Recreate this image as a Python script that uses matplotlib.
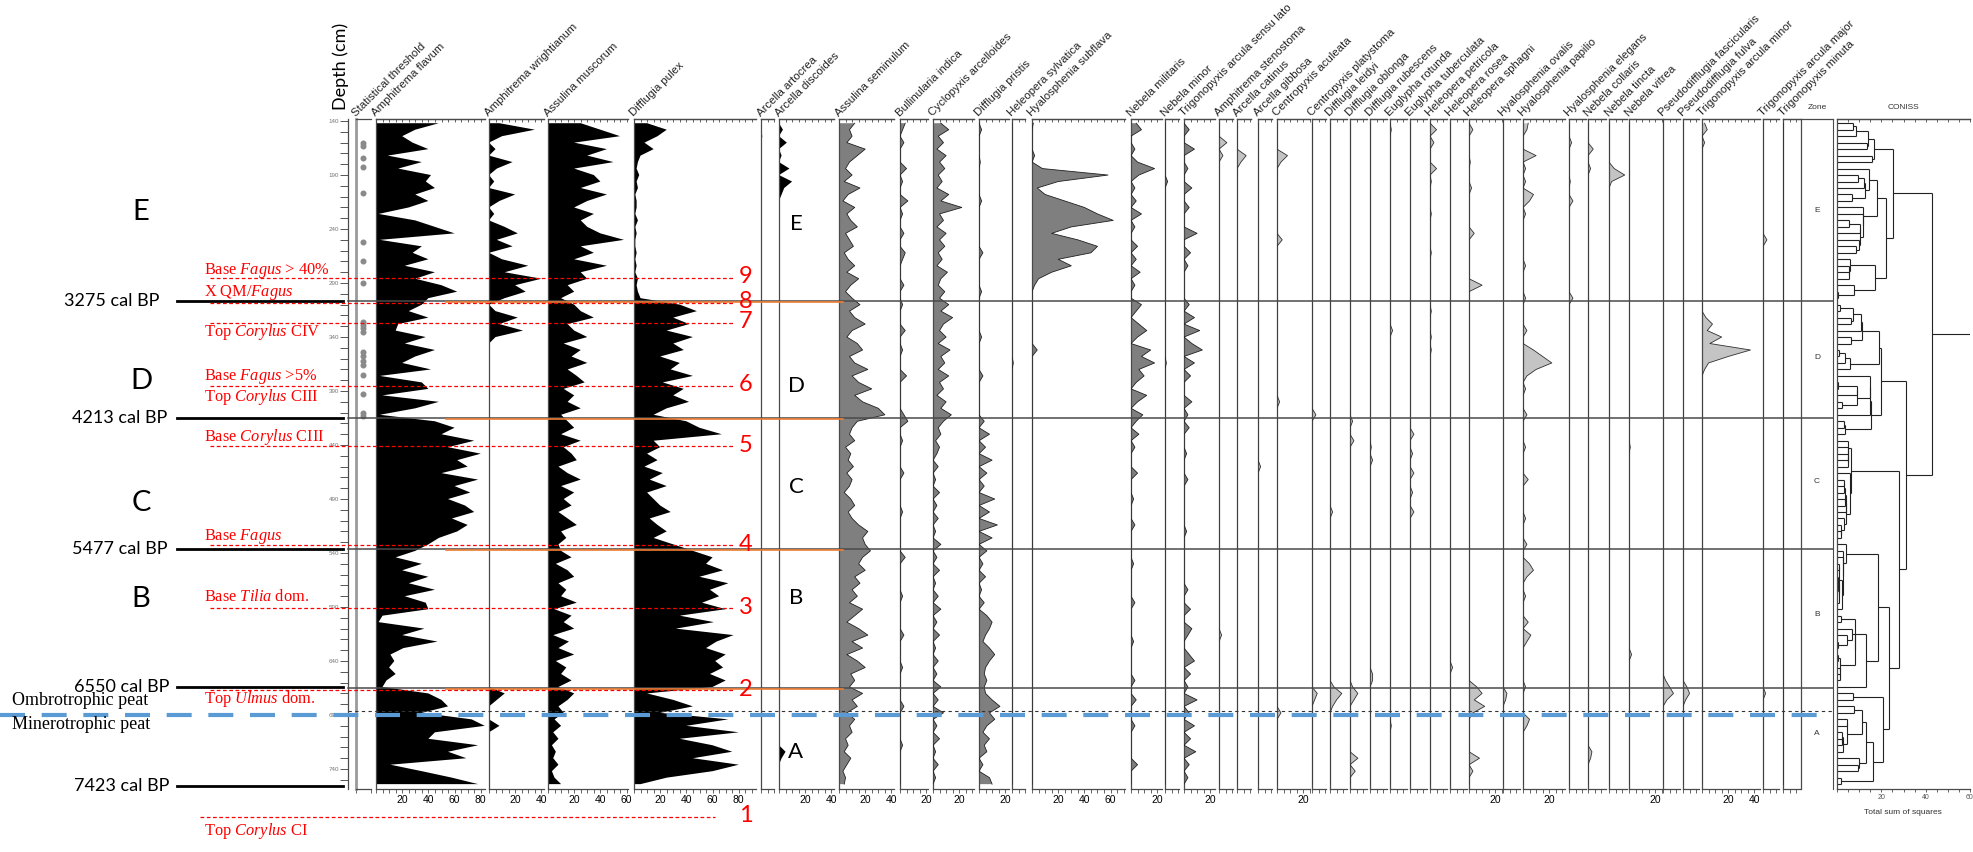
import numpy as np
import matplotlib
matplotlib.use("Agg")
import matplotlib.pyplot as plt
from matplotlib.collections import LineCollection
from matplotlib.transforms import blended_transform_factory

plt.rcParams["font.family"] = ["Liberation Sans", "DejaVu Sans"]
plt.rcParams["mathtext.fontset"] = "custom"
plt.rcParams["mathtext.rm"] = "Liberation Serif"
plt.rcParams["mathtext.it"] = "Liberation Serif:italic"

# ---------------- data (depth in cm, values in %) ----------------
depths = [142, 148, 154, 160, 166, 172, 178, 184, 190, 196, 202, 208, 214, 220,
          226, 232, 238, 244, 250, 256, 262, 268, 274, 280, 286, 292, 298, 304,
          310, 316, 322, 328, 334, 340, 346, 352, 358, 364, 370, 376, 382, 388,
          394, 400, 406, 412, 418, 424, 430, 436, 442, 448, 454, 460, 466, 472,
          478, 484, 490, 496, 502, 508, 514, 520, 526, 532, 538, 544, 550, 556,
          562, 568, 574, 580, 586, 592, 598, 604, 610, 616, 622, 628, 634, 640,
          646, 652, 658, 664, 670, 676, 682, 688, 694, 700, 706, 712, 718, 724,
          730, 736, 742, 748, 754]

# samples passing the statistical threshold
stat_dots = [160, 163, 174, 183, 207, 252, 270, 290, 326, 329, 332, 335,
             354, 358, 362, 366, 375, 393, 410, 413]

# full profiles (zones E / D / C / B / A)
amph_flavum = [48, 30, 20, 28, 40, 9, 35, 17, 42, 38, 45, 30, 40, 25, 2, 30, 45, 60, 3, 35, 28, 40, 22, 45, 30, 50, 62, 40,
               35, 25, 40, 17, 15, 38, 22, 45, 30, 20, 42, 3, 35, 40, 5, 48, 30, 3,
               45, 60, 50, 75, 55, 80, 62, 70, 50, 78, 60, 72, 55, 68, 75, 58, 70, 62, 48, 40,
               30, 15, 35, 20, 40, 25, 45, 22, 38, 40, 5, 2, 37, 20, 47, 21, 11, 14, 10, 15, 8, 5,
               40, 50, 55, 35, 73, 83, 45, 40, 78, 55, 69, 11, 35, 58, 78]
assulina_musc = [25, 40, 55, 20, 45, 30, 50, 20, 35, 40, 25, 45, 30, 20, 35, 25, 30, 40, 58, 25, 35, 20, 45, 25, 30, 15, 20, 10,
                 20, 25, 35, 15, 20, 30, 12, 25, 18, 30, 15, 22, 28, 12, 20, 15, 25, 10,
                 15, 20, 10, 25, 12, 18, 22, 8, 15, 25, 10, 20, 12, 18, 8, 15, 22, 10, 14, 8,
                 10, 18, 6, 15, 20, 8, 14, 10, 22, 5, 18, 12, 20, 4, 16, 8, 20, 6, 14, 10, 18, 8,
                 20, 15, 8, 12, 5, 10, 4, 8, 3, 6, 4, 8, 3, 5, 10]
difflugia_pulex = [10, 25, 18, 8, 15, 5, 3, 2, 4, 2, 3, 1, 2, 2, 1, 3, 1, 2, 1, 1, 2, 1, 2, 1, 3, 2, 3, 5,
                   35, 48, 30, 42, 25, 45, 30, 38, 20, 35, 28, 45, 22, 38, 30, 42, 25, 15,
                   40, 50, 67, 15, 20, 10, 18, 8, 22, 12, 25, 10, 15, 20, 28, 12, 18, 25, 15, 30,
                   45, 60, 55, 68, 50, 72, 58, 65, 52, 70, 35, 61, 32, 76, 63, 55, 70, 62, 68, 58, 70, 60,
                   10, 30, 45, 20, 72, 40, 80, 35, 60, 75, 45, 80, 60, 25, 5]
assulina_sem = [12, 8, 10, 6, 20, 14, 8, 5, 10, 4, 16, 7, 3, 12, 6, 9, 14, 5, 8, 11, 4, 7, 12, 6, 15, 9, 5, 10,
                16, 8, 12, 20, 10, 6, 14, 18, 8, 12, 22, 10, 15, 25, 12, 18, 30, 35,
                14, 10, 8, 12, 5, 9, 7, 11, 6, 10, 8, 4, 9, 12, 7, 10, 15, 22, 18, 20,
                24, 18, 15, 20, 12, 16, 10, 14, 8, 18, 12, 6, 15, 22, 10, 18, 6, 14, 20, 9, 12, 8,
                18, 10, 14, 6, 12, 8, 10, 5, 7, 4, 9, 6, 3, 5, 4]

# sparse profiles: (depth, %) of samples where the taxon occurs
amph_wright = [(142, 8), (148, 35), (154, 10), (166, 5), (178, 18), (184, 6), (196, 4), (208, 20),
               (214, 8), (226, 4), (238, 12), (244, 22), (250, 6), (256, 18), (268, 10), (274, 30),
               (280, 12), (286, 40), (292, 20), (298, 28), (304, 12), (316, 5), (322, 22), (328, 8),
               (334, 26), (340, 5), (670, 12), (676, 6), (700, 8)]
arc_artocrea = [(154, 1)]
arc_discoides = [(148, 3), (160, 6), (172, 2), (184, 8), (196, 10), (202, 4), (208, 2), (724, 5), (730, 2)]
bullinularia = [(142, 4), (148, 2), (160, 3), (184, 5), (196, 2), (214, 6), (226, 2), (244, 3), (262, 4),
                (268, 2), (292, 3), (310, 2), (334, 4), (352, 2), (376, 5), (412, 3), (418, 6), (436, 2),
                (466, 3), (502, 2), (544, 4), (580, 2), (616, 3), (646, 2), (682, 3), (718, 2)]
cyclopyxis = [(142, 6), (148, 12), (154, 4), (160, 8), (166, 3), (172, 10), (178, 5), (184, 9), (190, 4),
              (196, 7), (202, 3), (208, 12), (214, 6), (220, 22), (226, 5), (232, 8), (238, 3), (244, 10),
              (250, 5), (256, 9), (262, 4), (268, 7), (274, 3), (280, 11), (286, 6), (292, 4), (298, 9),
              (304, 5), (310, 12), (316, 6), (322, 15), (328, 8), (334, 5), (340, 10), (346, 4), (352, 13),
              (358, 6), (364, 9), (370, 4), (376, 12), (382, 5), (388, 8), (394, 3), (400, 10), (406, 6),
              (412, 14), (418, 8), (424, 4), (430, 6), (436, 2), (442, 5), (448, 3), (460, 4), (472, 2),
              (484, 5), (496, 3), (508, 4), (520, 2), (532, 6), (544, 3), (556, 5), (568, 2), (580, 4),
              (592, 6), (604, 3), (616, 5), (628, 2), (640, 4), (652, 3), (664, 6), (676, 4), (688, 8),
              (700, 3), (712, 5), (724, 2), (736, 4), (748, 2)]
diff_pristis = [(148, 2), (178, 1), (214, 2), (262, 3), (298, 2), (340, 2), (376, 3), (418, 4), (430, 8),
                (442, 5), (454, 10), (466, 6), (478, 4), (490, 12), (502, 8), (514, 14), (526, 10),
                (538, 6), (550, 3), (562, 5), (574, 2), (586, 4), (598, 6), (604, 10), (610, 8), (616, 5),
                (622, 3), (628, 8), (634, 12), (640, 8), (646, 5), (652, 4), (658, 6), (664, 4), (670, 5),
                (676, 10), (682, 16), (688, 8), (694, 12), (700, 6), (706, 3), (712, 8), (718, 4),
                (724, 6), (736, 3), (748, 8), (754, 10)]
hel_sylvatica = [(364, 1)]
hya_subflava = [(142, 1), (172, 2), (184, 8), (190, 58), (196, 20), (202, 4), (208, 10), (214, 25),
                (220, 40), (226, 50), (232, 62), (238, 30), (244, 15), (250, 35), (256, 50), (262, 45),
                (268, 20), (274, 30), (280, 15), (286, 5), (292, 2), (352, 4)]
neb_militaris = [(142, 4), (148, 8), (166, 3), (178, 5), (184, 18), (190, 6), (202, 3), (214, 4), (226, 8),
                 (238, 3), (256, 5), (268, 4), (280, 7), (292, 3), (310, 8), (316, 4), (328, 6), (334, 12),
                 (340, 5), (352, 15), (358, 8), (364, 18), (370, 6), (376, 10), (382, 4), (394, 12),
                 (400, 5), (412, 9), (418, 4), (430, 6), (442, 3), (466, 5), (490, 2), (514, 3), (550, 2),
                 (586, 3), (622, 2), (658, 3), (676, 4), (700, 3), (736, 5)]
neb_minor = [(196, 2), (364, 1)]
trig_sl = [(148, 4), (166, 8), (184, 3), (202, 6), (220, 4), (244, 10), (262, 5), (274, 3), (310, 4),
           (322, 8), (334, 12), (346, 6), (352, 14), (364, 8), (376, 5), (400, 6), (412, 3), (424, 4),
           (448, 2), (472, 3), (520, 2), (574, 3), (592, 5), (610, 6), (616, 3), (634, 4), (640, 8),
           (652, 5), (664, 3), (676, 10), (688, 4), (700, 8), (712, 5), (724, 9), (736, 4), (748, 3)]
amph_stenostoma = [(160, 6), (172, 3), (616, 2)]
arc_catinus = [(172, 7), (178, 3)]
arc_gibbosa = [(460, 2)]
cen_aculeata = [(172, 8), (178, 3), (250, 4), (400, 2), (688, 3)]
cen_platystoma = [(412, 3), (670, 4), (676, 2)]
diff_leidyi = [(502, 2), (664, 3), (670, 9), (676, 5), (682, 2)]
diff_oblonga = [(418, 2), (436, 3), (664, 2), (670, 6), (676, 3), (730, 6), (742, 4)]
diff_rubescens = [(442, 1), (454, 2), (652, 2), (658, 2)]
eug_rotunda = [(148, 1), (334, 2), (700, 1)]
eug_tuberculata = [(430, 3), (448, 2), (466, 3), (484, 2), (502, 3)]
hel_petricola = [(148, 5), (160, 3), (184, 5), (196, 1), (226, 1), (262, 1), (316, 1), (340, 1), (352, 1)]
hel_rosea = [(646, 2)]
hel_sphagni = [(148, 3), (178, 1), (202, 2), (244, 4), (292, 10), (664, 6), (670, 10), (676, 4),
               (682, 12), (688, 3), (730, 8), (742, 3)]
hya_ovalis = [(670, 3), (676, 2)]
hya_papilio = [(142, 4), (148, 3), (172, 10), (184, 2), (196, 2), (208, 8), (214, 5), (226, 2), (274, 2),
               (304, 2), (334, 3), (352, 8), (358, 15), (364, 22), (370, 10), (376, 3), (388, 2), (412, 3),
               (442, 2), (472, 4), (508, 2), (532, 3), (550, 5), (556, 8), (562, 3), (580, 2), (604, 4),
               (616, 6), (622, 3), (664, 2), (694, 5), (700, 3)]
hya_elegans = [(160, 2), (196, 1), (214, 3), (304, 3)]
neb_collaris = [(166, 4), (184, 2), (724, 3), (730, 2)]
neb_tincta = [(184, 4), (190, 12), (196, 2)]
neb_vitrea = [(442, 1), (634, 2)]
pse_fascicularis = [(658, 2), (664, 5), (670, 8), (676, 3)]
pse_fulva = [(664, 3), (670, 5), (676, 2)]
trig_minor = [(142, 2), (148, 4), (160, 2), (322, 3), (328, 8), (334, 4), (340, 15), (346, 6), (352, 37),
              (358, 20), (364, 5), (370, 2)]
trig_major = [(250, 3), (670, 2)]
trig_minuta = []

taxa = ["Amphitrema flavum", "Amphitrema wrightianum", "Assulina muscorum", "Difflugia pulex",
        "Arcella artocrea", "Arcella discoides", "Assulina seminulum", "Bullinularia indica",
        "Cyclopyxis arcelloides", "Difflugia pristis", "Heleopera sylvatica", "Hyalosphenia subflava",
        "Nebela militaris", "Nebela minor", "Trigonopyxis arcula sensu lato", "Amphitrema stenostoma",
        "Arcella catinus", "Arcella gibbosa", "Centropyxis aculeata", "Centropyxis platystoma",
        "Difflugia leidyi", "Difflugia oblonga", "Difflugia rubescens", "Euglypha rotunda",
        "Euglypha tuberculata", "Heleopera petricola", "Heleopera rosea", "Heleopera sphagni",
        "Hyalosphenia ovalis", "Hyalosphenia papilio", "Hyalosphenia elegans", "Nebela collaris",
        "Nebela tincta", "Nebela vitrea", "Pseudodifflugia fascicularis", "Pseudodifflugia fulva",
        "Trigonopyxis arcula minor", "Trigonopyxis arcula major", "Trigonopyxis minuta"]
series = [amph_flavum, amph_wright, assulina_musc, difflugia_pulex, arc_artocrea, arc_discoides,
          assulina_sem, bullinularia, cyclopyxis, diff_pristis, hel_sylvatica, hya_subflava,
          neb_militaris, neb_minor, trig_sl, amph_stenostoma, arc_catinus, arc_gibbosa, cen_aculeata,
          cen_platystoma, diff_leidyi, diff_oblonga, diff_rubescens, eug_rotunda, eug_tuberculata,
          hel_petricola, hel_rosea, hel_sphagni, hya_ovalis, hya_papilio, hya_elegans, neb_collaris,
          neb_tincta, neb_vitrea, pse_fascicularis, pse_fulva, trig_minor, trig_major, trig_minuta]

zones = ["E", "D", "C", "B", "A"]
zone_bounds = [306.7, 415, 536, 665]
coniss_root = 43   # total sum of squares of the last merge
cal_dates = ["3275 cal BP", "4213 cal BP", "5477 cal BP", "6550 cal BP", "7423 cal BP"]
cal_depths = [306.7, 415, 536, 664, 756]
event_numbers = ["1", "2", "3", "4", "5", "6", "7", "8", "9"]
event_depths = [784, 667, 591, 533, 441, 385, 327, 308.5, 285]
event_labels = ["Top $\\it{Corylus}$ CI", "Top $\\it{Ulmus}$ dom.", "Base $\\it{Tilia}$ dom.",
                "Base $\\it{Fagus}$", "Base $\\it{Corylus}$ CIII", "Top $\\it{Corylus}$ CIII",
                "Base $\\it{Fagus}$ >5%", "Top $\\it{Corylus}$ CIV", "X QM/$\\it{Fagus}$",
                "Base $\\it{Fagus}$ > 40%"]
peat_boundary = 690

# ---------------- layout (pixels) ----------------
W, H, DPI = 1973, 852, 100
TOP_PX, BOT_PX = 119, 789
D_TOP, D_BOT = 138.1, 758.5
PX_PCT = 1.31
lefts = [376, 489, 548, 634, 761, 779, 839, 900, 933, 979, 1012, 1032, 1131, 1165, 1184, 1219,
         1237, 1258, 1277, 1312, 1330, 1350, 1370, 1390, 1410, 1430, 1450, 1469, 1503, 1523,
         1569, 1588, 1609, 1629, 1663, 1683, 1702, 1763, 1783]
xmaxes = [83, 42, 61, 93, 10, 42, 42, 21, 31, 23, 10, 71, 24, 11, 24, 11, 11, 11, 25, 11, 13, 13,
          13, 13, 13, 13, 13, 25, 13, 32, 13, 14, 14, 25, 13, 12, 44, 12, 13]
event_text_depths = [797, 675, 581, 525, 432.6, 395.5, 377, 335, 299, 278]
SPINE = "#4a4a4a"
BLACK, DARK, LIGHT = "#000000", "#7f7f7f", "#c4c4c4"

dep = np.array(depths, float)


def on_grid(v):
    out = np.zeros(len(dep))
    if len(v) and isinstance(v[0], tuple):
        for d, val in v:
            out[np.argmin(np.abs(dep - d))] = val
    elif len(v):
        out[:] = v
    return out


fig = plt.figure(figsize=(W / DPI, H / DPI), dpi=DPI)


def add_panel(left, right):
    ax = fig.add_axes([left / W, 1 - BOT_PX / H, (right - left) / W, (BOT_PX - TOP_PX) / H])
    ax.set_ylim(D_BOT, D_TOP)
    ax.patch.set_alpha(0)
    ax.set_yticks([])
    ax.spines["right"].set_visible(False)
    for s in ["left", "top", "bottom"]:
        ax.spines[s].set_color(SPINE)
        ax.spines[s].set_linewidth(0.9)
    return ax


def top_ticks(ax, ticks):
    sec = ax.secondary_xaxis("top")
    sec.set_xticks(ticks, labels=[""] * len(ticks))
    sec.tick_params(direction="in", length=2.5, width=0.6, color=SPINE)
    sec.spines["top"].set_color(SPINE)
    sec.spines["top"].set_linewidth(0.9)


# depth axis
dax = add_panel(348, 355)
dax.spines["top"].set_visible(False)
dax.spines["bottom"].set_visible(False)
dax.set_xticks([])
dax.set_yticks(np.arange(140, 760, 50))
dax.set_yticks(np.arange(140, 760, 10), minor=True)
dax.tick_params(axis="y", which="both", direction="out", length=5.5, width=0.7,
                color="#555555", labelsize=4.5, labelcolor="#777777", pad=1)

# statistical threshold column
sax = add_panel(356, 371)
sax.set_xlim(0, 1)
sax.spines["left"].set_color("#9a9a9a")
sax.spines["left"].set_linewidth(2.0)
sax.set_xticks([0, 1], labels=["", ""])
sax.tick_params(axis="x", direction="out", length=3, width=0.6, color=SPINE)
sax.scatter(np.full(len(stat_dots), 0.45), stat_dots, s=11, color="#8a8a8a", zorder=3, clip_on=False)

# taxon panels
for k, (name, vals) in enumerate(zip(taxa, series)):
    xm = xmaxes[k]
    ax = add_panel(lefts[k], lefts[k] + xm * PX_PCT)
    ax.set_xlim(0, xm)
    v = on_grid(vals)
    if k < 6:
        fc, ec = BLACK, None
    elif k < 15:
        fc, ec = DARK, "#202020"
    else:
        fc, ec = LIGHT, "#303030"
    ax.fill_betweenx(dep, 0, v, facecolor=fc, edgecolor="none", zorder=2)
    if ec is not None:
        ax.plot(v, dep, color=ec, lw=0.6, zorder=3)
    major = [t for t in range(20, int(xm) + 1, 20)]
    minor = list(range(0, int(xm) + 1, 5))
    ax.set_xticks(major, labels=[str(t) for t in major])
    ax.set_xticks(minor, minor=True)
    ax.tick_params(axis="x", which="both", direction="out", length=3, width=0.6,
                   color=SPINE, labelsize=7.5, pad=1)
    top_ticks(ax, minor)

# zone column
zax = add_panel(1801, 1833)
zax.spines["right"].set_visible(True)
zax.spines["right"].set_color(SPINE)
zax.spines["bottom"].set_visible(False)
zax.set_xlim(0, 1)
zax.set_xticks([])

# CONISS (constrained incremental sum of squares on sqrt proportions)
P = np.array([on_grid(s) for s in series]).T
P = P / P.sum(axis=1, keepdims=True)
X = np.sqrt(P)
clusters = [dict(s=X[i].copy(), ss=float((X[i] ** 2).sum()), n=1, y=dep[i], h=0.0)
            for i in range(len(dep))]


def dispersion(c):
    return c["ss"] - float((c["s"] ** 2).sum()) / c["n"]


merges = []
total = 0.0
while len(clusters) > 1:
    best = None
    for k in range(len(clusters) - 1):
        a, b = clusters[k], clusters[k + 1]
        s = a["s"] + b["s"]
        ss = a["ss"] + b["ss"]
        n = a["n"] + b["n"]
        inc = ss - float((s ** 2).sum()) / n - dispersion(a) - dispersion(b)
        if best is None or inc < best[0]:
            best = (inc, k, s, ss, n)
    inc, k, s, ss, n = best
    total += inc
    a, b = clusters[k], clusters[k + 1]
    merges.append((a["h"], a["y"], b["h"], b["y"], total))
    clusters[k:k + 2] = [dict(s=s, ss=ss, n=n, y=(a["y"] + b["y"]) / 2, h=total)]

# express heights on the scale of the published dendrogram
f = coniss_root / total
segments = []
for ha, ya, hb, yb, h in merges:
    segments += [[(ha * f, ya), (h * f, ya)], [(hb * f, yb), (h * f, yb)], [(h * f, ya), (h * f, yb)]]

cax = add_panel(1837, 1970)
cax.set_xlim(0, 60)
root = clusters[0]
segments.append([(root["h"] * f, root["y"]), (60, root["y"])])
cax.add_collection(LineCollection(segments, colors="#222222", linewidths=0.8))
cax.set_xticks([0, 20, 40, 60], labels=["", "20", "40", "60"])
cax.set_xticks(range(0, 61, 5), minor=True)
cax.tick_params(axis="x", which="both", direction="out", length=2.5, width=0.6,
                color=SPINE, labelsize=5, labelcolor="#555555", pad=1)
top_ticks(cax, list(range(0, 61, 5)))

# ---------------- overlay annotations ----------------
ov = fig.add_axes([0, 0, 1, 1], zorder=20)
ov.set_xlim(0, W)
ov.set_ylim(H, 0)
ov.set_autoscale_on(False)
ov.axis("off")
tr = blended_transform_factory(ov.transData, dax.transData)

# headers
for k, name in enumerate(taxa):
    ov.text(lefts[k] + 1, 118, name, rotation=45, rotation_mode="anchor",
            ha="left", va="bottom", fontsize=8.2, color="#222222")
ov.text(357, 118, "Statistical threshold", rotation=45, rotation_mode="anchor",
        ha="left", va="bottom", fontsize=8.2, color="#222222")
ov.text(341, 110, "Depth (cm)", rotation=90, ha="center", va="bottom", fontsize=13,
        family=["Lato", "DejaVu Sans"])
ov.text(1817, 111, "Zone", ha="center", va="bottom", fontsize=6, color="#333333")
ov.text(1903, 111, "CONISS", ha="center", va="bottom", fontsize=6, color="#333333")
ov.text(1903, 812, "Total sum of squares", ha="center", va="center", fontsize=6, color="#333333")

# zone boundaries
for zb in zone_bounds:
    ov.plot([348, 1833], [zb, zb], transform=tr, color=SPINE, lw=1.1)
    ov.plot([446, 843], [zb + 1.2, zb + 1.2], transform=tr, color="#ED7D31", lw=1.2)
zone_label_depths = [223, 359, 474, 597, 707]
inner_label_depths = [235, 385, 479, 582, 724]
for z, zd, idd in zip(zones, zone_label_depths, inner_label_depths):
    ov.text(1817, zd, z, transform=tr, ha="center", va="center", fontsize=6, color="#333333")
    ov.text(796, idd, z, transform=tr, ha="center", va="center", fontsize=16,
            family=["Lato", "DejaVu Sans"])
for z, zd in zip(zones[:4], [224, 381, 494, 583]):
    ov.text(141, zd, z, transform=tr, ha="center", va="center", fontsize=21,
            family=["Lato", "DejaVu Sans"])

# calibrated ages
for lab, cd, cx in zip(cal_dates, cal_depths, [112, 120, 120, 122, 122]):
    ov.plot([177, 343], [cd, cd], transform=tr, color="black", lw=2.0)
    ov.text(cx, cd, lab, transform=tr, ha="center", va="center", fontsize=13,
            family=["Lato", "DejaVu Sans"])

# pollen events
for num, ed in zip(event_numbers, event_depths):
    x1 = 715 if num == "1" else 733
    x0 = 200 if num == "1" else 210
    ov.plot([x0, x1], [ed, ed], transform=tr, color="red", lw=0.9, dashes=(3, 2))
    ov.text(746, ed - 1, num, transform=tr, ha="center", va="center", fontsize=17,
            color="red", family=["Lato", "DejaVu Sans"])
for lab, td in zip(event_labels, event_text_depths):
    ov.text(204, td, lab, transform=tr, ha="left", va="center", fontsize=11.8, color="red",
            family=["Liberation Serif", "DejaVu Serif"])

# peat transition
ov.plot([348, 1833], [peat_boundary - 3.5, peat_boundary - 3.5], transform=tr,
        color="#333333", lw=0.8, dashes=(3, 3))
ov.plot([0, 1822], [peat_boundary, peat_boundary], transform=tr, color="#5B9BD5",
        lw=3, dashes=(6, 4))
ov.text(12, peat_boundary - 13, "Ombrotrophic peat", transform=tr, ha="left", va="center",
        fontsize=13, family=["Liberation Serif", "DejaVu Serif"])
ov.text(12, peat_boundary + 9, "Minerotrophic peat", transform=tr, ha="left", va="center",
        fontsize=13, family=["Liberation Serif", "DejaVu Serif"])

fig.savefig("out.png", dpi=DPI)
